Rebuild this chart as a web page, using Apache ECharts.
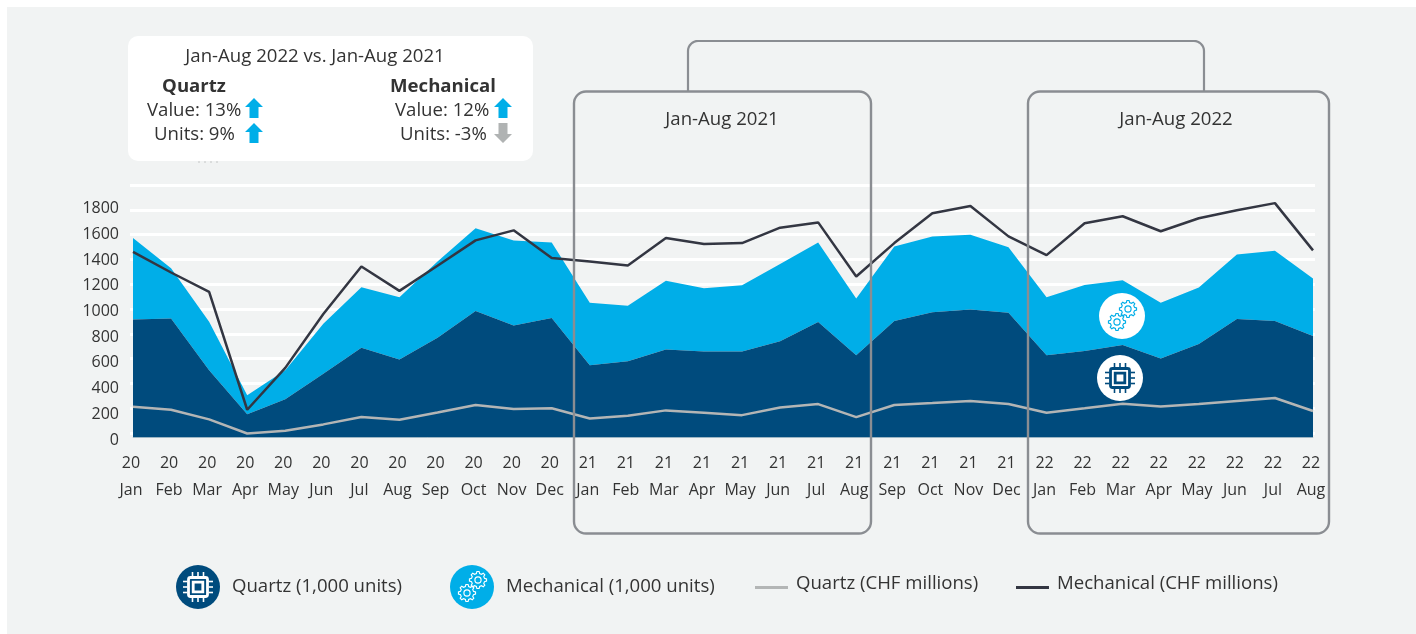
<!DOCTYPE html>
<html><head><meta charset="utf-8">
<style>html,body{margin:0;padding:0;background:#fff}#c{width:1416px;height:634px}</style>
<script src="https://cdn.jsdelivr.net/npm/echarts@6/dist/echarts.min.js"></script>
</head><body><div id="c"></div>
<script>
const years = ['20','20','20','20','20','20','20','20','20','20','20','20','21','21','21','21','21','21','21','21','21','21','21','21','22','22','22','22','22','22','22','22'];
const months = ['Jan','Feb','Mar','Apr','May','Jun','Jul','Aug','Sep','Oct','Nov','Dec','Jan','Feb','Mar','Apr','May','Jun','Jul','Aug','Sep','Oct','Nov','Dec','Jan','Feb','Mar','Apr','May','Jun','Jul','Aug'];
const quartzUnits = [919,927,523,180,297,497,698,607,776,984,872,930,562,594,685,669,669,750,898,641,906,974,997,971,641,674,719,615,727,922,906,789];
const mechanicalUnits = [633,391,378,148,226,388,471,484,594,644,662,588,487,432,534,492,516,601,620,440,581,591,581,510,450,513,505,434,440,502,547,448];
const quartzValue = [240,216,141,31,52,102,159,138,195,253,221,227,148,169,211,193,174,234,260,159,253,268,284,260,193,227,263,242,260,284,307,206];
const mechanicalValue = [1445,1284,1133,216,542,961,1331,1141,1336,1534,1612,1396,1370,1338,1552,1505,1513,1633,1674,1253,1513,1745,1802,1565,1419,1667,1722,1605,1706,1769,1824,1456];
const categories = years.map((y,i)=>y+'\n'+months[i]);
const DARK='#004b7d', BLUE='#00aee8', INK='#333642', GREY='#b3b5b5', FRAME='#8a8d92', TXT='#333';
const FONT='"Open Sans"';
const FS=18.6;
const LINE_ICON='path://M0 0h.01v.01h-.01z M0 9.5h33v3h-33z M0 14h.01v.01h-.01z';

function arrow(cx,cy,up,color){
  const s=up?1:-1, h=10, w=9, sw=4.5, hd=1;
  return {type:'polygon',z:30,shape:{points:[[cx,cy-s*h],[cx+w,cy-s*hd],[cx+sw,cy-s*hd],[cx+sw,cy+s*h],[cx-sw,cy+s*h],[cx-sw,cy-s*hd],[cx-w,cy-s*hd]]},style:{fill:color}};
}
function txt(x,y,t,o){
  return {type:'text',z:30,x:x,y:y,style:Object.assign({text:t,font:FS+'px '+FONT,fill:TXT,textAlign:'left',textVerticalAlign:'middle'},o||{})};
}
function gear(cx,cy,r,color){
  const pts=[],n=8;
  for(let i=0;i<n;i++){
    const a=i/n*2*Math.PI, d=Math.PI/n;
    [[-0.62,r*0.78],[-0.32,r],[0.32,r],[0.62,r*0.78]].forEach(p=>{
      const t=a+p[0]*d; pts.push([cx+p[1]*Math.cos(t),cy+p[1]*Math.sin(t)]);
    });
  }
  return [
    {type:'polygon',z:32,shape:{points:pts},style:{fill:'none',stroke:color,lineWidth:1.15}},
    {type:'circle',z:32,shape:{cx:cx,cy:cy,r:r*0.36},style:{fill:'none',stroke:color,lineWidth:1.15}}
  ];
}
function gears(cx,cy,color){
  return gear(cx+6,cy-7,8.6,color).concat(gear(cx-5,cy+6,8.6,color));
}
function chip(cx,cy,color){
  const e=[];
  const rect=(x,y,w,h,o)=>({type:'rect',z:32,shape:{x:cx+x,y:cy+y,width:w,height:h,r:o&&o.r?o.r:0},style:o&&o.stroke?{fill:'none',stroke:color,lineWidth:o.stroke}:{fill:color}});
  e.push(rect(-9.5,-9.5,19,19,{stroke:2.8,r:2}));
  e.push(rect(-4.8,-4.8,9.6,9.6,{stroke:2.8}));
  [-5.5,0,5.5].forEach(d=>{
    e.push(rect(d-0.8,-15,1.6,4.5));
    e.push(rect(d-0.8,10.5,1.6,4.5));
    e.push(rect(-15,d-0.8,4.5,1.6));
    e.push(rect(10.5,d-0.8,4.5,1.6));
  });
  return e;
}
function corner(cx,cy,r,a0,a1){
  const p=[];
  for(let i=0;i<=8;i++){const t=(a0+(a1-a0)*i/8)*Math.PI/180;p.push([cx+r*Math.cos(t),cy+r*Math.sin(t)]);}
  return p;
}
const frame=(x,y,w,h,r)=>({type:'rect',z:25,shape:{x:x,y:y,width:w,height:h,r:r},style:{fill:'none',stroke:FRAME,lineWidth:2.4}});

const graphic=[
  {type:'rect',z:-10,shape:{x:7,y:7,width:1409,height:627},style:{fill:'#f1f3f3'}},
  frame(574,91.5,297,442,12),
  frame(1028,91.5,301,442,12),
  {type:'polyline',z:25,shape:{points:[[688,91],...corner(698,51,10,180,270),...corner(1194,51,10,270,360),[1204,91]]},style:{fill:'none',stroke:FRAME,lineWidth:2.2}},
  txt(722,120,'Jan-Aug 2021',{textAlign:'center'}),
  txt(1176,120,'Jan-Aug 2022',{textAlign:'center'}),
  {type:'rect',z:28,shape:{x:128,y:36,width:405,height:125,r:10},style:{fill:'#fff'}},
  {type:'line',z:28,shape:{x1:198,y1:162,x2:221,y2:162},style:{stroke:'#c4c6c6',lineWidth:1,lineDash:[2,4]}},
  txt(315,57,'Jan-Aug 2022 vs. Jan-Aug 2021',{textAlign:'center'}),
  txt(194,87,'Quartz',{textAlign:'center',font:'bold '+FS+'px '+FONT}),
  txt(443,87,'Mechanical',{textAlign:'center',font:'bold '+FS+'px '+FONT}),
  txt(147,111,'Value: 13%'),
  txt(154,135,'Units: 9%'),
  txt(395,111,'Value: 12%'),
  txt(400,135,'Units: -3%'),
  arrow(254,108,true,BLUE),
  arrow(254,133,true,BLUE),
  arrow(503,108,true,BLUE),
  arrow(503,133,false,'#b0b3b3'),
  {type:'circle',z:31,shape:{cx:1122,cy:316,r:23},style:{fill:'#fff'}},
  {type:'circle',z:31,shape:{cx:1120,cy:378,r:23},style:{fill:'#fff'}},
  ...gears(1122,316,BLUE),
  ...chip(1120,378,DARK),
  ...chip(198,587,'#fff'),
  ...gears(472,587,'#fff')
];

const legendBase={orient:'horizontal',itemGap:0,padding:0,selectedMode:false};
const legendText=(pad)=>({fontFamily:FONT,fontSize:FS,color:TXT,padding:pad});
const option={
  animation:false,
  backgroundColor:'#fff',
  graphic:graphic,
  legend:[
    Object.assign({},legendBase,{data:[{name:'Quartz (1,000 units)',icon:'circle'}],left:176,top:565,itemWidth:44,itemHeight:44,textStyle:legendText([0,0,2,7])}),
    Object.assign({},legendBase,{data:[{name:'Mechanical (1,000 units)',icon:'circle'}],left:450,top:565,itemWidth:44,itemHeight:44,textStyle:legendText([0,0,2,7])}),
    Object.assign({},legendBase,{data:[{name:'Quartz (CHF millions)',icon:LINE_ICON}],left:755,top:574,itemWidth:33,itemHeight:14,textStyle:legendText([0,0,0,3])}),
    Object.assign({},legendBase,{data:[{name:'Mechanical (CHF millions)',icon:LINE_ICON}],left:1016,top:574,itemWidth:33,itemHeight:14,textStyle:legendText([0,0,0,3])})
  ],
  grid:[
    {left:133,top:180.5,width:1180,height:257,containLabel:false},
    {left:130,top:185,width:1185,height:248,containLabel:false}
  ],
  xAxis:[
    {type:'category',gridIndex:0,data:categories,boundaryGap:false,
     axisLine:{show:true,lineStyle:{color:'#cfd8dc',width:1}},axisTick:{show:false},splitLine:{show:false},
     axisLabel:{interval:0,hideOverlap:false,margin:12,fontFamily:FONT,fontSize:16,color:TXT,lineHeight:27,padding:[0,4,0,0]}},
    {type:'category',gridIndex:1,data:categories,show:false}
  ],
  yAxis:[
    {type:'value',gridIndex:0,min:0,max:2000,interval:200,
     axisLine:{show:false},axisTick:{show:false},splitLine:{show:false},
     axisLabel:{margin:14,fontFamily:FONT,fontSize:16,color:TXT,verticalAlign:'top',lineHeight:5,formatter:v=>v===2000?'':String(v)}},
    {type:'value',gridIndex:1,min:0,max:2000,interval:200,
     axisLine:{show:false},axisTick:{show:false},axisLabel:{show:false},
     splitLine:{show:true,lineStyle:{color:'#ffffff',width:3}}}
  ],
  series:[
    {name:'Quartz (1,000 units)',type:'line',stack:'u',data:quartzUnits,symbol:'none',lineStyle:{width:0},itemStyle:{color:DARK},areaStyle:{color:DARK,opacity:1},z:3},
    {name:'Mechanical (1,000 units)',type:'line',stack:'u',data:mechanicalUnits,symbol:'none',lineStyle:{width:0},itemStyle:{color:BLUE},areaStyle:{color:BLUE,opacity:1},z:2},
    {name:'Quartz (CHF millions)',type:'line',data:quartzValue,symbol:'none',lineStyle:{color:GREY,width:2.5},itemStyle:{color:GREY},z:5},
    {name:'Mechanical (CHF millions)',type:'line',data:mechanicalValue,symbol:'none',lineStyle:{color:INK,width:2.5},itemStyle:{color:INK},z:6}
  ]
};
const chart=echarts.init(document.getElementById('c'),null,{renderer:'canvas',width:1416,height:634});
chart.setOption(option);
</script></body></html>
